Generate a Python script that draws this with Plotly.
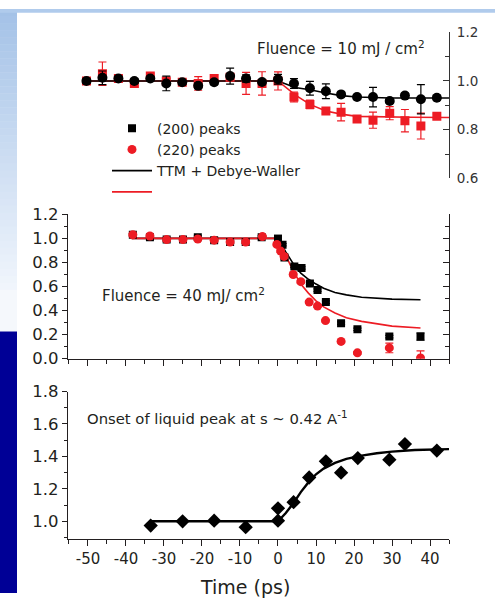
import plotly.graph_objects as go

# ---------------- data ----------------
# Top panel (Fluence = 10 mJ/cm^2)
top_t = [-50.4, -46.2, -42.0, -37.8, -33.6, -29.4, -25.2, -21.0, -16.8, -12.6, -8.4, -4.2,
         0.0, 4.2, 8.4, 12.6, 16.6, 20.8, 25.0, 29.4, 33.4, 37.6, 41.8]
top_black = [1.00, 1.013, 1.01, 1.00, 1.01, 0.99, 0.995, 0.98, 0.995, 1.02, 1.01, 0.996,
             1.007, 0.99, 0.97, 0.958, 0.945, 0.934, 0.934, 0.918, 0.94, 0.925, 0.931]
top_black_err = [0.01, 0.028, 0.01, 0.01, 0.01, 0.03, 0.01, 0.01, 0.01, 0.033, 0.015, 0.01,
                 0.02, 0.02, 0.028, 0.03, 0.01, 0.01, 0.04, 0.01, 0.01, 0.06, 0.01]
top_red = [1.00, 1.03, 1.01, 0.99, 1.02, 1.00, 0.995, 0.99, 1.01, 1.015, 0.99, 0.99,
           1.00, 0.934, 0.904, 0.877, 0.872, 0.844, 0.839, 0.868, 0.837, 0.815, 0.855]
top_red_err = [0.01, 0.048, 0.01, 0.015, 0.01, 0.01, 0.01, 0.028, 0.015, 0.01, 0.045, 0.048,
               0.037, 0.02, 0.018, 0.01, 0.036, 0.01, 0.033, 0.027, 0.046, 0.053, 0.01]
top_fit_t = [-50.0, 0.0, 4.5, 8.4, 12.6, 16.6, 20.8, 25.0, 29.5, 35.0, 45.0]
top_fit_black = [1.0, 1.0, 0.973, 0.964, 0.951, 0.94, 0.934, 0.931, 0.93, 0.93, 0.93]
top_fit_red = [1.0, 1.0, 0.943, 0.904, 0.877, 0.864, 0.855, 0.853, 0.852, 0.851, 0.85]

# Middle panel (Fluence = 40 mJ/cm^2)
mid_sq_t = [-38.2, -33.7, -29.3, -25.0, -21.1, -16.8, -12.6, -8.5, -4.3, 0.0, 1.2, 1.7,
            4.3, 6.2, 8.4, 10.4, 12.6, 16.6, 20.9, 29.3, 37.5]
mid_sq = [1.03, 1.01, 0.99, 0.99, 1.01, 0.985, 0.97, 0.97, 1.01, 0.996, 0.947, 0.84,
          0.767, 0.754, 0.625, 0.57, 0.47, 0.295, 0.244, 0.183, 0.183]
mid_sq_err = [0.01, 0.01, 0.01, 0.01, 0.01, 0.015, 0.01, 0.01, 0.01, 0.03, 0.01, 0.01,
              0.01, 0.01, 0.01, 0.01, 0.01, 0.01, 0.01, 0.01, 0.03]
mid_ci_t = [-38.2, -33.7, -29.3, -25.0, -21.1, -16.8, -12.6, -8.5, -4.1, -0.3, 0.7, 1.6,
            4.0, 6.0, 8.2, 10.4, 12.5, 16.6, 20.9, 29.3, 37.5]
mid_ci = [1.03, 1.02, 0.99, 0.99, 0.995, 0.985, 0.97, 0.97, 1.015, 0.95, 0.894, 0.85,
          0.70, 0.64, 0.47, 0.437, 0.316, 0.143, 0.048, 0.089, 0.005]
mid_ci_err = [0.01, 0.01, 0.01, 0.01, 0.01, 0.01, 0.01, 0.01, 0.01, 0.01, 0.01, 0.01,
              0.01, 0.01, 0.01, 0.01, 0.01, 0.01, 0.01, 0.04, 0.06]
mid_fit_t = [-38.5, 0.0, 2.0, 4.0, 6.0, 8.0, 10.0, 12.0, 15.0, 18.0, 22.0, 26.0, 30.0, 37.5]
mid_fit_black = [1.0, 1.0, 0.89, 0.79, 0.71, 0.66, 0.62, 0.585, 0.55, 0.53, 0.51, 0.50, 0.495, 0.49]
mid_fit_red = [1.0, 1.0, 0.86, 0.73, 0.62, 0.545, 0.48, 0.43, 0.38, 0.34, 0.31, 0.29, 0.27, 0.255]

# Bottom panel (liquid peak)
bot_t = [-33.5, -25.1, -16.8, -8.5, 0.0, 0.0, 4.1, 8.2, 12.6, 16.6, 21.0, 29.3, 33.4, 41.8]
bot_v = [0.974, 1.0, 1.004, 0.964, 1.004, 1.08, 1.118, 1.27, 1.37, 1.30, 1.39, 1.38, 1.476, 1.436]
bot_fit_t = [-33.5, 0.0, 2.0, 4.0, 6.0, 8.0, 10.0, 12.0, 15.0, 18.0, 22.0, 26.0, 30.0, 36.0, 45.0]
bot_fit = [1.0, 1.0, 1.05, 1.11, 1.18, 1.24, 1.29, 1.325, 1.36, 1.385, 1.405, 1.42, 1.43, 1.44, 1.445]

x_tickvals = [-50, -40, -30, -20, -10, 0, 10, 20, 30, 40]
x_ticktext = ["-50", "-40", "-30", "-20", "-10", "0", "10", "20", "30", "40"]

legend_names = ["(200) peaks", "(220) peaks", "TTM + Debye-Waller", " "]

# ---------------- style ----------------
W, H = 495, 603
RED = "#ed1c24"
BLK = "#000000"
TXT = "#231f20"
FONT = "DejaVu Sans"
XR = [-55.26, 45.0]

def px_x(p):
    return p / W

def px_y(p):
    return 1 - p / H

fig = go.Figure()

# ---- top panel ----
fig.add_trace(go.Scatter(x=top_fit_t, y=top_fit_red, mode="lines", line=dict(color=RED, width=1.6),
                         xaxis="x", yaxis="y", showlegend=False, hoverinfo="skip"))
fig.add_trace(go.Scatter(x=top_fit_t, y=top_fit_black, mode="lines", line=dict(color=BLK, width=1.6),
                         xaxis="x", yaxis="y", showlegend=False, hoverinfo="skip"))
fig.add_trace(go.Scatter(x=top_t, y=top_red, mode="markers",
                         marker=dict(symbol="square", size=9, color=RED),
                         error_y=dict(type="data", array=top_red_err, color=RED, thickness=1.2, width=4),
                         xaxis="x", yaxis="y", showlegend=False))
fig.add_trace(go.Scatter(x=top_t, y=top_black, mode="markers",
                         marker=dict(symbol="circle", size=10, color=BLK),
                         error_y=dict(type="data", array=top_black_err, color=BLK, thickness=1.2, width=4),
                         xaxis="x", yaxis="y", showlegend=False))

# ---- middle panel ----
fig.add_trace(go.Scatter(x=mid_fit_t, y=mid_fit_black, mode="lines", line=dict(color=BLK, width=1.6),
                         name=legend_names[2], legendrank=3, xaxis="x2", yaxis="y2"))
fig.add_trace(go.Scatter(x=mid_fit_t, y=mid_fit_red, mode="lines", line=dict(color=RED, width=1.6),
                         name=legend_names[3], legendrank=4, xaxis="x2", yaxis="y2"))
fig.add_trace(go.Scatter(x=mid_sq_t, y=mid_sq, mode="markers",
                         marker=dict(symbol="square", size=8, color=BLK),
                         error_y=dict(type="data", array=mid_sq_err, color=BLK, thickness=1.2, width=4),
                         name=legend_names[0], legendrank=1, xaxis="x2", yaxis="y2"))
fig.add_trace(go.Scatter(x=mid_ci_t, y=mid_ci, mode="markers",
                         marker=dict(symbol="circle", size=9, color=RED),
                         error_y=dict(type="data", array=mid_ci_err, color=RED, thickness=1.2, width=4),
                         name=legend_names[1], legendrank=2, xaxis="x2", yaxis="y2"))
# overlay axis for right-hand inside ticks
fig.add_trace(go.Scatter(x=[None], y=[None], xaxis="x2", yaxis="y4", showlegend=False, hoverinfo="skip"))

# ---- bottom panel ----
fig.add_trace(go.Scatter(x=bot_fit_t, y=bot_fit, mode="lines", line=dict(color=BLK, width=2.4),
                         xaxis="x3", yaxis="y3", showlegend=False, hoverinfo="skip"))
fig.add_trace(go.Scatter(x=bot_t, y=bot_v, mode="markers",
                         marker=dict(symbol="diamond", size=11, color=BLK),
                         xaxis="x3", yaxis="y3", showlegend=False))

xdom = [px_x(68), px_x(449)]
axline = dict(showline=True, linecolor=TXT, linewidth=1.3, showgrid=False, zeroline=False,
              tickcolor=TXT, tickwidth=1.3)

fig.update_layout(
    width=W, height=H,
    margin=dict(l=0, r=0, t=0, b=0),
    paper_bgcolor="white",
    plot_bgcolor="rgba(0,0,0,0)",
    font=dict(family=FONT, color=TXT),
    showlegend=True,
    legend=dict(x=px_x(107), y=px_y(107), xanchor="left", yanchor="top",
                bgcolor="rgba(0,0,0,0)", font=dict(family=FONT, size=14, color=TXT),
                itemwidth=40, tracegroupgap=0),
    xaxis=dict(domain=xdom, range=XR, anchor="y", visible=False),
    yaxis=dict(domain=[px_y(175), px_y(24)], range=[0.6, 1.2], anchor="x", side="right",
               ticks="inside", ticklen=6, tick0=0.6, dtick=0.2, tickformat=".1f",
               minor=dict(dtick=0.1, ticks="inside", ticklen=4, tickcolor="#333", tickwidth=1.2),
               tickfont=dict(size=13.5, color="#333"), ticklabelstandoff=4,
               **{**axline, "linecolor": "#333", "tickcolor": "#333"}),
    xaxis2=dict(domain=xdom, range=XR, anchor="y2", ticks="outside", ticklen=6,
                tickvals=x_tickvals, showticklabels=False,
                minor=dict(dtick=5, tick0=0, ticks="outside", ticklen=4, tickcolor=TXT, tickwidth=1.2),
                **axline),
    yaxis2=dict(domain=[px_y(361), px_y(212)], range=[0, 1.2], anchor="x2", side="left",
                ticks="outside", ticklen=5, tick0=0, dtick=0.2, tickformat=".1f",
                minor=dict(dtick=0.1, ticks="outside", ticklen=3, tickcolor=TXT, tickwidth=1.2),
                tickfont=dict(size=16.5, color=TXT), **axline),
    yaxis4=dict(overlaying="y2", range=[0, 1.2], anchor="x2", side="right",
                ticks="inside", ticklen=6, tick0=0, dtick=0.2, showticklabels=False,
                minor=dict(dtick=0.1, ticks="inside", ticklen=4, tickcolor=TXT, tickwidth=1.2),
                **axline),
    xaxis3=dict(domain=xdom, range=XR, anchor="y3", ticks="outside", ticklen=6,
                tickvals=x_tickvals, ticktext=x_ticktext,
                minor=dict(dtick=5, tick0=0, ticks="outside", ticklen=4, tickcolor=TXT, tickwidth=1.2),
                tickfont=dict(size=15, color=TXT), **axline),
    yaxis3=dict(domain=[px_y(547), px_y(395)], range=[0.8925, 1.8], anchor="x3", side="left",
                ticks="outside", ticklen=5, tick0=1.0, dtick=0.2, tickformat=".1f",
                minor=dict(dtick=0.1, ticks="outside", ticklen=3, tickcolor=TXT, tickwidth=1.2),
                tickfont=dict(size=16.5, color=TXT), **axline),
)

# ---- text ----
ann = [
    dict(text="Fluence = 10 mJ / cm<sup>2</sup>", x=px_x(255), y=px_y(40), size=15),
    dict(text="Fluence = 40 mJ/ cm<sup>2</sup>", x=px_x(100), y=px_y(295), size=15),
    dict(text="Onset of liquid peak at s ~ 0.42 A<sup>-1</sup>", x=px_x(85), y=px_y(422), size=14.8),
]
for a in ann:
    fig.add_annotation(text=a["text"], x=a["x"], y=a["y"], xref="paper", yref="paper",
                       xanchor="left", yanchor="middle", showarrow=False,
                       font=dict(family=FONT, size=a["size"], color=TXT))
fig.add_annotation(text="Time (ps)", x=px_x(245), y=px_y(597), xref="paper", yref="paper",
                   xanchor="center", yanchor="middle", showarrow=False,
                   font=dict(family=FONT, size=19, color=TXT))

# ---- slide background decoration ----
shapes = []
top_c = (164, 194, 231)
bot_c = (240, 245, 252)
n = 40
for i in range(n):
    f = i / (n - 1)
    c = tuple(int(round(top_c[k] + (bot_c[k] - top_c[k]) * f)) for k in range(3))
    y0p = 290 * i / n
    y1p = 290 * (i + 1) / n + 0.5
    shapes.append(dict(type="rect", xref="paper", yref="paper", x0=0, x1=px_x(17),
                       y0=px_y(y1p), y1=px_y(y0p), fillcolor="rgb(%d,%d,%d)" % c,
                       line=dict(width=0), layer="below"))
shapes.append(dict(type="rect", xref="paper", yref="paper", x0=0, x1=px_x(17),
                   y0=px_y(333), y1=px_y(290), fillcolor="rgb(245,248,252)",
                   line=dict(width=0), layer="below"))
shapes.append(dict(type="rect", xref="paper", yref="paper", x0=0, x1=px_x(17),
                   y0=0, y1=px_y(333), fillcolor="#000096", line=dict(width=0), layer="below"))
shapes.append(dict(type="rect", xref="paper", yref="paper", x0=0, x1=1,
                   y0=px_y(4), y1=1, fillcolor="rgb(176,203,236)", line=dict(width=0), layer="below"))
fig.update_layout(shapes=shapes)

fig.write_html("out.html")
